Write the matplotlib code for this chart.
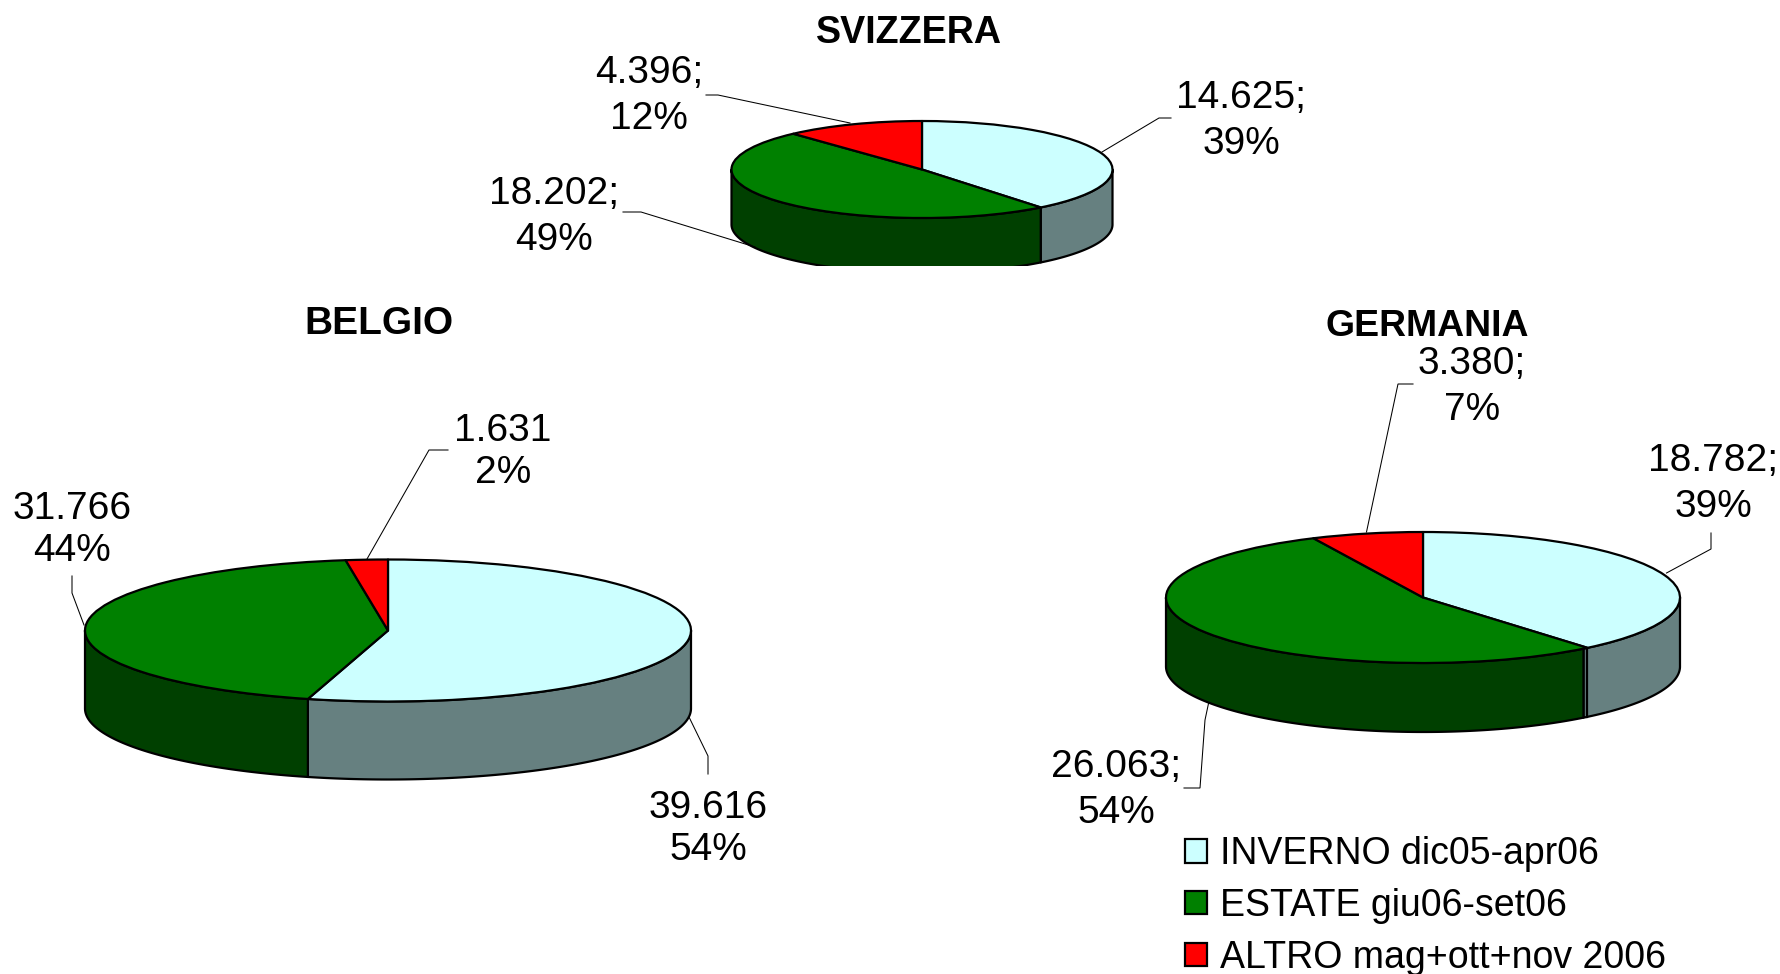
import numpy as np
import matplotlib
matplotlib.use("Agg")
import matplotlib.pyplot as plt
from matplotlib.patches import Polygon, Patch

W, H = 1780, 974
plt.rcParams['font.family'] = ['Liberation Sans', 'DejaVu Sans']

# ---- data ----
series_names = ["INVERNO dic05-apr06", "ESTATE giu06-set06", "ALTRO mag+ott+nov 2006"]
svizzera_values = [14625, 18202, 4396]
belgio_values = [39616, 31766, 1631]
germania_values = [18782, 26063, 3380]
svizzera_labels = ["14.625;\n39%", "18.202;\n49%", "4.396;\n12%"]
belgio_labels = ["39.616\n54%", "31.766\n44%", "1.631\n2%"]
germania_labels = ["18.782;\n39%", "26.063;\n54%", "3.380;\n7%"]

# ---- style ----
top_colors = ["#CCFFFF", "#008000", "#FF0000"]
wall_colors = ["#668080", "#004000", "#800000"]
FS = 28
LEGEND_FS = 27
LW = 1.6

# ---- layout, all in reference pixels ----
pies = [
    dict(title="SVIZZERA", title_xy=(909, 33), title_fs=27.1, values=svizzera_values, labels=svizzera_labels,
         cx=922, cy=169.5, a=190.5, b=48.5, depth=55, clip=266, seam=0, spacing=1.38,
         label_xy=[(1241, 121), (554, 217), (649, 96)],
         leaders=[[(1171, 118), (1159, 118), (1102, 152)],
                  [(623, 212), (641, 212), (755, 247)],
                  [(706, 95), (718, 95), (850, 123)]]),
    dict(title="BELGIO", title_xy=(379, 324), title_fs=28, values=belgio_values, labels=belgio_labels,
         cx=388, cy=630.5, a=303, b=71, depth=78, clip=None, seam=0, spacing=1.23,
         label_xy=[(708, 829), (72, 530), (503, 452)],
         leaders=[[(708, 774), (708, 756), (689, 717)],
                  [(72, 576), (72, 593), (84, 625)],
                  [(448, 450), (429, 450), (367, 559)]]),
    dict(title="GERMANIA", title_xy=(1427, 327), title_fs=26.9, values=germania_values, labels=germania_labels,
         cx=1423, cy=597.5, a=257, b=65.5, depth=69, clip=None, seam=1.15, spacing=1.33,
         label_xy=[(1713, 484), (1116, 790), (1472, 387)],
         leaders=[[(1711, 533), (1711, 549), (1666.5, 573)],
                  [(1184, 788), (1200, 788), (1205, 720), (1208.6, 703)],
                  [(1413, 384), (1398, 384), (1366.5, 532)]]),
]

fig = plt.figure(figsize=(W / 100, H / 100), dpi=100, facecolor="white")

# overlay in pixel units for texts and leader lines
top_ov = fig.add_axes([0, 0, 1, 1], zorder=5)
top_ov.set_xlim(0, W)
top_ov.set_ylim(H, 0)
top_ov.axis("off")
top_ov.patch.set_alpha(0)


def draw_pie(p):
    vals = np.asarray(p["values"], float)
    edges = np.concatenate([[0], np.cumsum(vals) / vals.sum() * 360])
    a, b, cx, cy = p["a"], p["b"], p["cx"], p["cy"]
    d = p["depth"] / b
    pad = 4
    bottom_px = p["clip"] if p["clip"] else cy + b + p["depth"] + pad
    top_px = cy - b - pad
    left_px, right_px = cx - a - pad, cx + a + pad
    ax = fig.add_axes([left_px / W, 1 - bottom_px / H,
                       (right_px - left_px) / W, (bottom_px - top_px) / H], zorder=2)
    # wedges: clockwise from 12 o'clock, on an axes squashed to an ellipse
    ax.pie(vals, colors=top_colors, startangle=90, counterclock=False, radius=1,
           wedgeprops=dict(edgecolor="black", linewidth=LW, zorder=3, joinstyle="round"))
    ax.set_aspect("auto")
    ax.set_xlim((left_px - cx) / a, (right_px - cx) / a)
    ax.set_ylim((cy - bottom_px) / b, (cy - top_px) / b)
    ax.patch.set_alpha(0)
    # front wall of every slice that reaches the front half
    for i in range(len(vals)):
        t1, t2 = max(edges[i], 90), min(edges[i + 1], 270)
        if i == 0:
            t2 = min(edges[1] + p["seam"], 270)
        if i == 1:
            t1 = max(edges[1] + p["seam"], 90)
        if t2 <= t1:
            continue
        t = np.radians(np.linspace(t1, t2, 120))
        xs, ys = np.sin(t), np.cos(t)
        poly = np.column_stack([np.r_[xs, xs[::-1]], np.r_[ys, ys[::-1] - d]])
        ax.add_patch(Polygon(poly, closed=True, facecolor=wall_colors[i], edgecolor="black",
                             linewidth=LW, zorder=1 if i == 0 else 2 - i * 0.1,
                             joinstyle="round"))
    if p["seam"]:
        t = np.radians(edges[1])
        ax.plot([np.sin(t)] * 2, [np.cos(t), np.cos(t) - d], color="black", lw=LW, zorder=1.5)
    # texts and leaders
    for pts in p["leaders"]:
        xs, ys = zip(*pts)
        top_ov.plot(xs, ys, color="black", lw=0.75, solid_joinstyle="miter")
    for txt, (x, y) in zip(p["labels"], p["label_xy"]):
        top_ov.text(x, y, txt, fontsize=FS, ha="center", va="center",
                    linespacing=p["spacing"], color="black")
    top_ov.text(*p["title_xy"], p["title"], fontsize=p["title_fs"], fontweight="bold",
                ha="center", va="center", color="black")


for p in pies:
    draw_pie(p)

handles = [Patch(facecolor=c, edgecolor="black", linewidth=LW) for c in top_colors]
top_ov.legend(handles, series_names, loc="upper left",
              bbox_to_anchor=(1185 / W, 1 - 836 / H), bbox_transform=fig.transFigure,
              frameon=False, fontsize=LEGEND_FS, borderpad=0, borderaxespad=0,
              handlelength=0.587, handleheight=0.587, handletextpad=0.35, labelspacing=0.42)

fig.savefig("out.png", dpi=100, facecolor="white")
